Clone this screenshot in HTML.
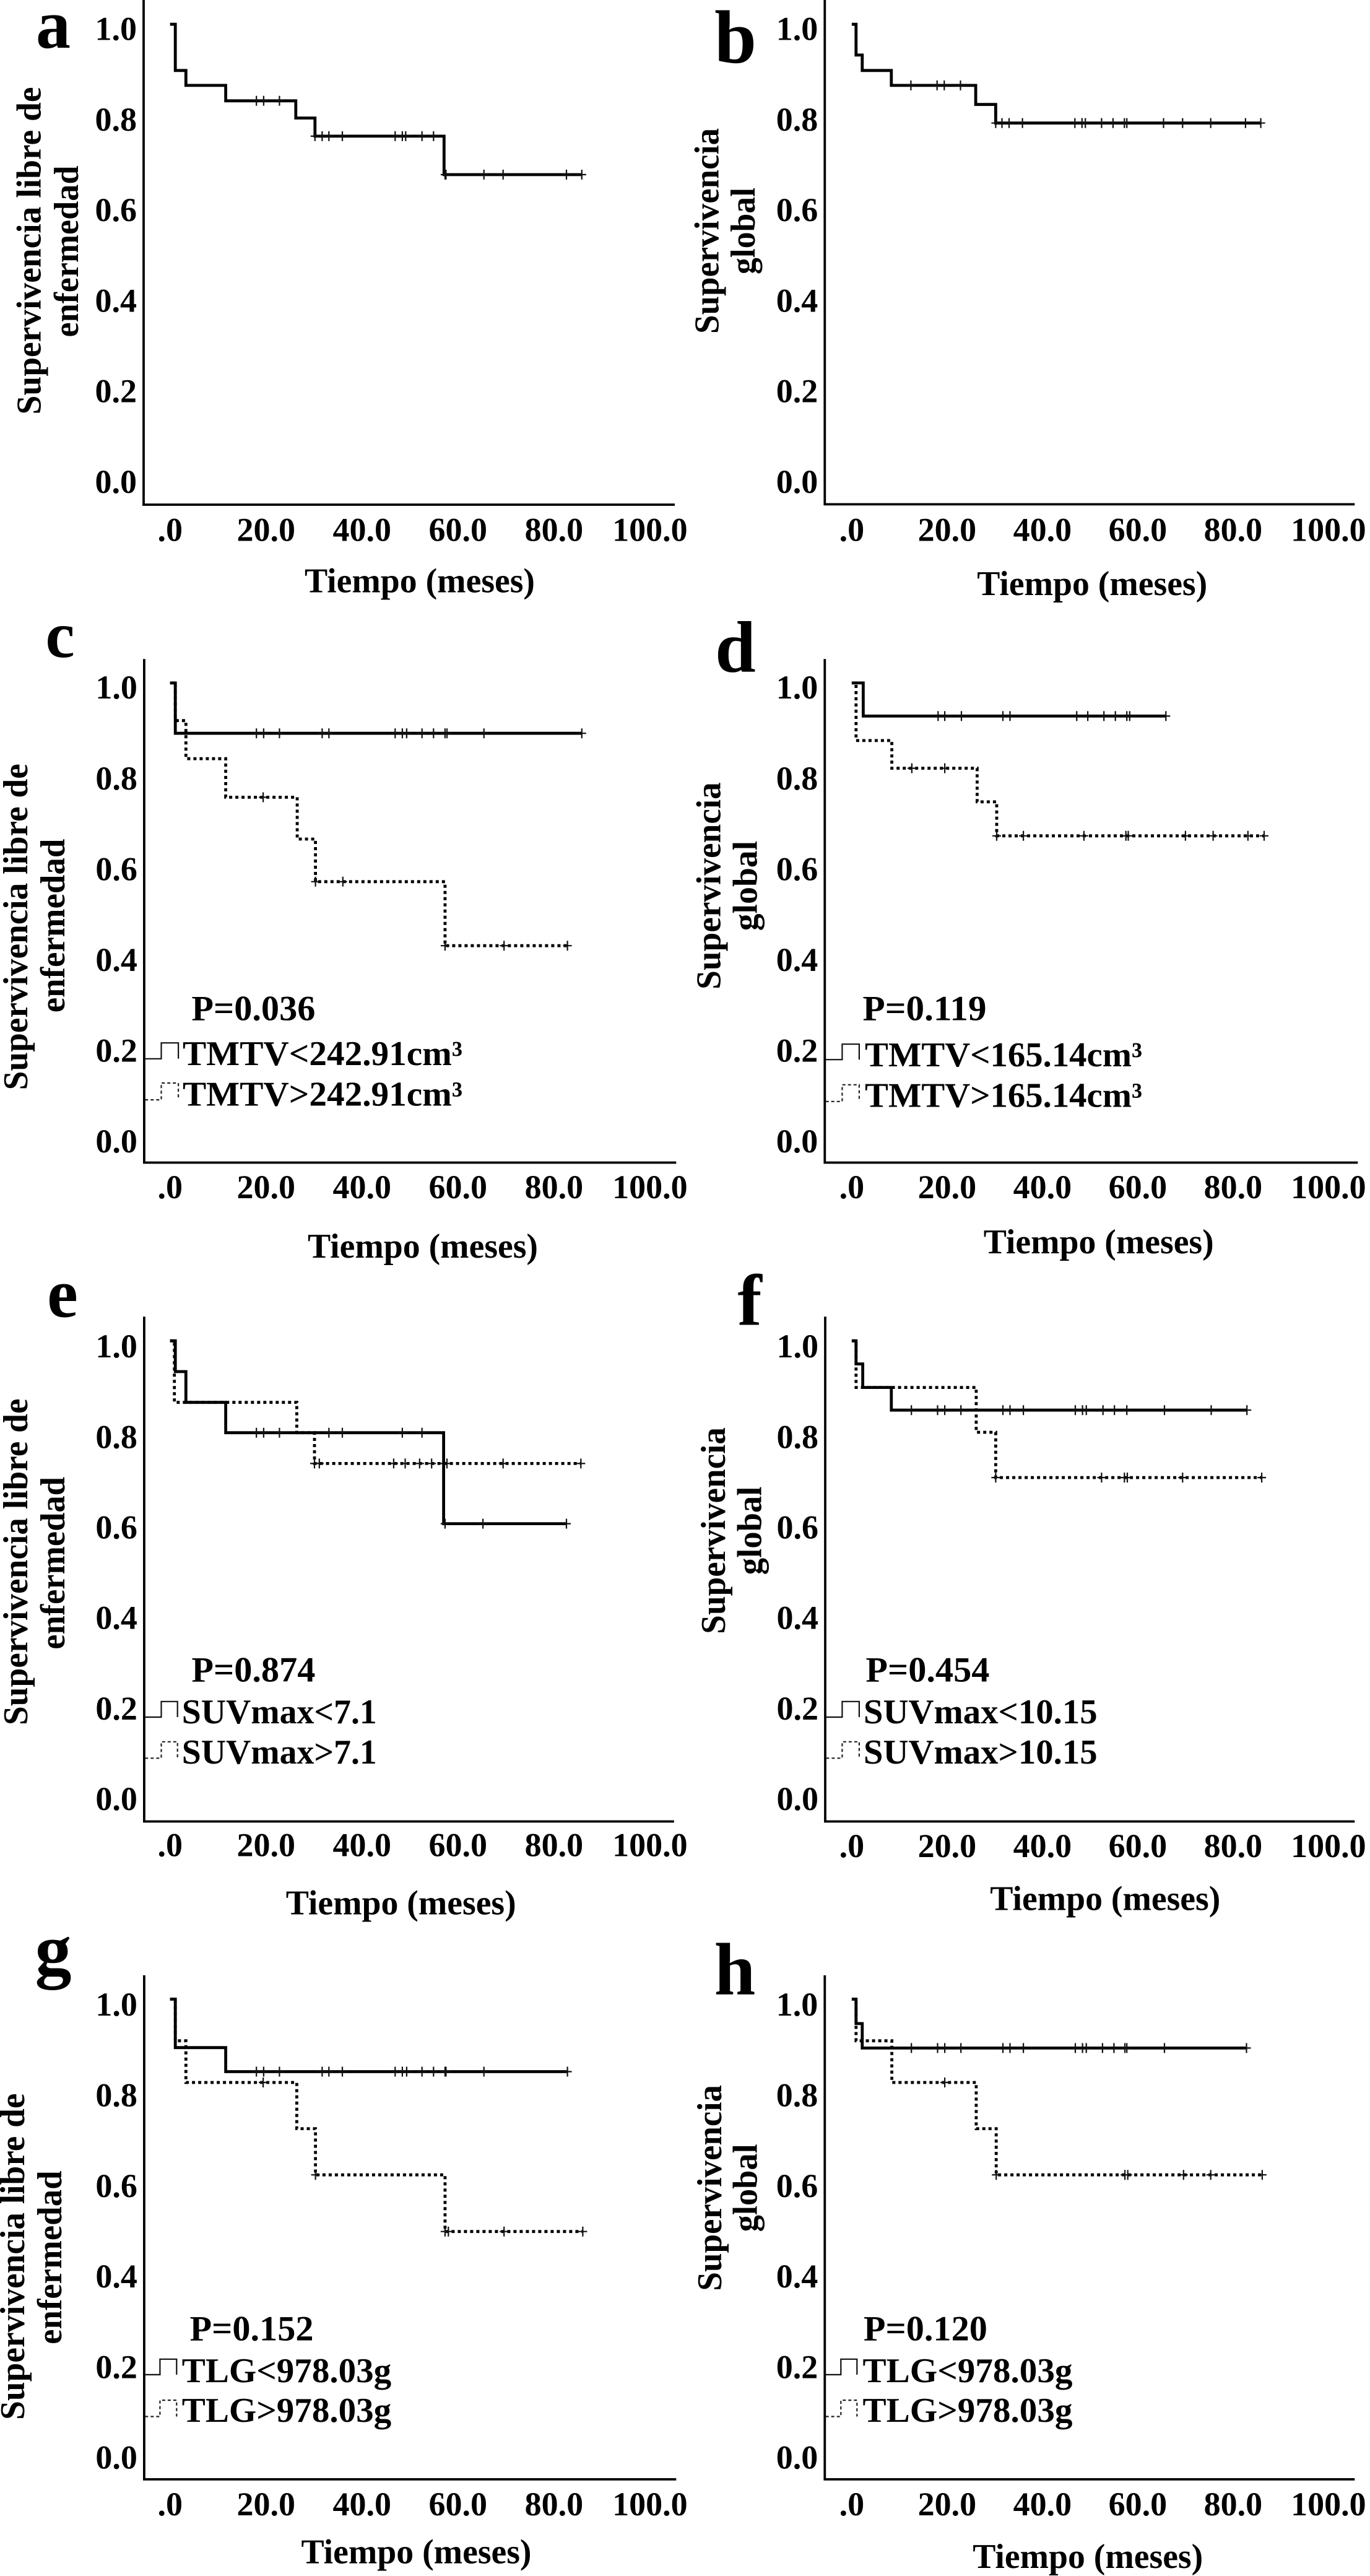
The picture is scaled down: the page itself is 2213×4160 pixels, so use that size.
<!DOCTYPE html>
<html lang="es">
<head>
<meta charset="utf-8">
<title>Curvas de supervivencia</title>
<style>
html,body{margin:0;padding:0;background:#fff;}
svg{display:block;}
text{font-family:"Liberation Serif",serif;font-weight:bold;fill:#000;}
.letter{font-size:112px;text-anchor:middle;}
.ytitle{font-size:56px;text-anchor:middle;}
.xtitle{font-size:56px;text-anchor:middle;}
.pval{font-size:57px;}
.leg{font-size:56px;}
.tick{font-size:54px;}
.axis{stroke:#000;stroke-width:3.8;fill:none;}
.lg-solid{stroke:#111;stroke-width:2.2;fill:none;}
.lg-dot{stroke:#222;stroke-width:2.2;fill:none;stroke-dasharray:5 4;}
</style>
</head>
<body>
<svg id="figure" width="2213" height="4160" viewBox="0 0 2213 4160">
<rect x="0" y="0" width="2213" height="4160" fill="#fff"/>

<g id="panel-a">
<text class="letter" x="86" y="77" style="font-size:112px">a</text>
<line class="axis" x1="232" y1="0" x2="232" y2="816"/>
<line class="axis" x1="230" y1="815" x2="1090" y2="815"/>
<text class="ytitle" transform="translate(65.5 405) rotate(-90)" textLength="529" lengthAdjust="spacingAndGlyphs">Supervivencia libre de</text>
<text class="ytitle" transform="translate(126 406) rotate(-90)" textLength="277" lengthAdjust="spacingAndGlyphs">enfermedad</text>
<text class="xtitle" x="678" y="956.5" textLength="372" lengthAdjust="spacingAndGlyphs">Tiempo (meses)</text>
</g>

<g id="panel-b">
<text class="letter" x="1188" y="100.8" style="font-size:122px">b</text>
<line class="axis" x1="1332.3" y1="0" x2="1332.3" y2="816"/>
<line class="axis" x1="1330.5" y1="814.4" x2="2188.3" y2="814.4"/>
<text class="ytitle" transform="translate(1160.6 373) rotate(-90)" textLength="332" lengthAdjust="spacingAndGlyphs">Supervivencia</text>
<text class="ytitle" transform="translate(1219 373) rotate(-90)" textLength="140" lengthAdjust="spacingAndGlyphs">global</text>
<text class="xtitle" x="1764.2" y="961" textLength="372" lengthAdjust="spacingAndGlyphs">Tiempo (meses)</text>
</g>

<g id="panel-c">
<text class="letter" x="97" y="1060.8" style="font-size:106px">c</text>
<line class="axis" x1="232.9" y1="1064.2" x2="232.9" y2="1879"/>
<line class="axis" x1="231" y1="1877.5" x2="1092.3" y2="1877.5"/>
<text class="ytitle" transform="translate(44 1496.9) rotate(-90)" textLength="527" lengthAdjust="spacingAndGlyphs">Supervivencia libre de</text>
<text class="ytitle" transform="translate(104 1494.9) rotate(-90)" textLength="280.6" lengthAdjust="spacingAndGlyphs">enfermedad</text>
<text class="xtitle" x="683" y="2031" textLength="372" lengthAdjust="spacingAndGlyphs">Tiempo (meses)</text>
<text class="pval" x="309.4" y="1647.6" textLength="200" lengthAdjust="spacingAndGlyphs">P=0.036</text>
<path class="lg-solid" d="M234.3 1709.8H260.5V1684.2H288.1V1709.8"/>
<path class="lg-dot" d="M234.3 1776.1H260.5V1749H288.1V1776.1"/>
<text class="leg" x="295" y="1720" textLength="452" lengthAdjust="spacingAndGlyphs">TMTV&lt;242.91cm³</text>
<text class="leg" x="295" y="1785.6" textLength="452" lengthAdjust="spacingAndGlyphs">TMTV&gt;242.91cm³</text>
</g>

<g id="panel-d">
<text class="letter" x="1188" y="1084.5" style="font-size:118px">d</text>
<line class="axis" x1="1332.3" y1="1064.2" x2="1332.3" y2="1879"/>
<line class="axis" x1="1330.5" y1="1877.5" x2="2193.3" y2="1877.5"/>
<text class="ytitle" transform="translate(1163.5 1430.6) rotate(-90)" textLength="334.6" lengthAdjust="spacingAndGlyphs">Supervivencia</text>
<text class="ytitle" transform="translate(1222.5 1430.6) rotate(-90)" textLength="145.4" lengthAdjust="spacingAndGlyphs">global</text>
<text class="xtitle" x="1774.7" y="2024.2" textLength="372" lengthAdjust="spacingAndGlyphs">Tiempo (meses)</text>
<text class="pval" x="1393.5" y="1647.6" textLength="200" lengthAdjust="spacingAndGlyphs">P=0.119</text>
<path class="lg-solid" d="M1333.7 1711.2H1360.4V1686.2H1387.9V1711.2"/>
<path class="lg-dot" d="M1333.7 1778.8H1360.4V1751.8H1387.9V1778.8"/>
<text class="leg" x="1397" y="1722" textLength="448" lengthAdjust="spacingAndGlyphs">TMTV&lt;165.14cm³</text>
<text class="leg" x="1397" y="1787.6" textLength="448" lengthAdjust="spacingAndGlyphs">TMTV&gt;165.14cm³</text>
</g>

<g id="panel-e">
<text class="letter" x="101" y="2126.3" style="font-size:112px">e</text>
<line class="axis" x1="232.9" y1="2126.3" x2="232.9" y2="2943"/>
<line class="axis" x1="231" y1="2941.5" x2="1088.8" y2="2941.5"/>
<text class="ytitle" transform="translate(44 2522.3) rotate(-90)" textLength="527.3" lengthAdjust="spacingAndGlyphs">Supervivencia libre de</text>
<text class="ytitle" transform="translate(104 2524.3) rotate(-90)" textLength="278.6" lengthAdjust="spacingAndGlyphs">enfermedad</text>
<text class="xtitle" x="647.7" y="3091.5" textLength="372" lengthAdjust="spacingAndGlyphs">Tiempo (meses)</text>
<text class="pval" x="309.4" y="2715.3" textLength="200" lengthAdjust="spacingAndGlyphs">P=0.874</text>
<path class="lg-solid" d="M234.3 2773H260.5V2747.8H286.7V2773"/>
<path class="lg-dot" d="M234.3 2839.3H260.5V2812.8H286.7V2839.3"/>
<text class="leg" x="293.8" y="2783" textLength="315" lengthAdjust="spacingAndGlyphs">SUVmax&lt;7.1</text>
<text class="leg" x="293.8" y="2848" textLength="315" lengthAdjust="spacingAndGlyphs">SUVmax&gt;7.1</text>
</g>

<g id="panel-f">
<text class="letter" x="1211" y="2139.6" style="font-size:118px">f</text>
<line class="axis" x1="1333" y1="2126.3" x2="1333" y2="2943"/>
<line class="axis" x1="1331" y1="2941.5" x2="2188.3" y2="2941.5"/>
<text class="ytitle" transform="translate(1171 2471.9) rotate(-90)" textLength="333.6" lengthAdjust="spacingAndGlyphs">Supervivencia</text>
<text class="ytitle" transform="translate(1229.6 2471.9) rotate(-90)" textLength="142.6" lengthAdjust="spacingAndGlyphs">global</text>
<text class="xtitle" x="1785.3" y="3084.7" textLength="372" lengthAdjust="spacingAndGlyphs">Tiempo (meses)</text>
<text class="pval" x="1398.4" y="2715.3" textLength="200" lengthAdjust="spacingAndGlyphs">P=0.454</text>
<path class="lg-solid" d="M1334.4 2773H1360.4V2747.8H1387.9V2773"/>
<path class="lg-dot" d="M1334.4 2839.3H1360.4V2812.8H1387.9V2839.3"/>
<text class="leg" x="1394.9" y="2783" textLength="377.7" lengthAdjust="spacingAndGlyphs">SUVmax&lt;10.15</text>
<text class="leg" x="1394.9" y="2848" textLength="377.7" lengthAdjust="spacingAndGlyphs">SUVmax&gt;10.15</text>
</g>

<g id="panel-g">
<text class="letter" x="86" y="3187.9" style="font-size:118px">g</text>
<line class="axis" x1="232.9" y1="3189.9" x2="232.9" y2="4005.5"/>
<line class="axis" x1="231" y1="4003.9" x2="1092.3" y2="4003.9"/>
<text class="ytitle" transform="translate(39 3644.2) rotate(-90)" textLength="527.3" lengthAdjust="spacingAndGlyphs">Supervivencia libre de</text>
<text class="ytitle" transform="translate(99 3645.6) rotate(-90)" textLength="280.6" lengthAdjust="spacingAndGlyphs">enfermedad</text>
<text class="xtitle" x="672.5" y="4139.7" textLength="372" lengthAdjust="spacingAndGlyphs">Tiempo (meses)</text>
<text class="pval" x="306.5" y="3779.4" textLength="200" lengthAdjust="spacingAndGlyphs">P=0.152</text>
<path class="lg-solid" d="M234.3 3834.9H258.4V3809.8H285.3V3834.9"/>
<path class="lg-dot" d="M234.3 3902.5H258.4V3876.1H285.3V3902.5"/>
<text class="leg" x="293.8" y="3847" textLength="338.4" lengthAdjust="spacingAndGlyphs">TLG&lt;978.03g</text>
<text class="leg" x="293.8" y="3911.2" textLength="338.4" lengthAdjust="spacingAndGlyphs">TLG&gt;978.03g</text>
</g>

<g id="panel-h">
<text class="letter" x="1187" y="3220.3" style="font-size:120px">h</text>
<line class="axis" x1="1332.3" y1="3189.9" x2="1332.3" y2="4005.5"/>
<line class="axis" x1="1330.5" y1="4003.9" x2="2188.3" y2="4003.9"/>
<text class="ytitle" transform="translate(1165 3533.3) rotate(-90)" textLength="332.6" lengthAdjust="spacingAndGlyphs">Supervivencia</text>
<text class="ytitle" transform="translate(1222.5 3533.3) rotate(-90)" textLength="142" lengthAdjust="spacingAndGlyphs">global</text>
<text class="xtitle" x="1757.2" y="4147" textLength="372" lengthAdjust="spacingAndGlyphs">Tiempo (meses)</text>
<text class="pval" x="1394.9" y="3779.4" textLength="200" lengthAdjust="spacingAndGlyphs">P=0.120</text>
<path class="lg-solid" d="M1333.7 3834.9H1358.3V3809.8H1384.3V3834.9"/>
<path class="lg-dot" d="M1333.7 3902.5H1358.3V3876.1H1384.3V3902.5"/>
<text class="leg" x="1393.5" y="3847" textLength="339" lengthAdjust="spacingAndGlyphs">TLG&lt;978.03g</text>
<text class="leg" x="1393.5" y="3911.2" textLength="339" lengthAdjust="spacingAndGlyphs">TLG&gt;978.03g</text>
</g>
</svg>

<script>
// ---- tick data ----
const xTickValues = [0, 20, 40, 60, 80, 100];
const xTickLabels = ['.0', '20.0', '40.0', '60.0', '80.0', '100.0'];
const yTickValues = [0, 0.2, 0.4, 0.6, 0.8, 1.0];
const yTickLabels = ['0.0', '0.2', '0.4', '0.6', '0.8', '1.0'];

// ---- panel a ----
const aSolidTimes = [0, 1.1, 3.3, 11.6, 26.2, 30.2, 57.1];
const aSolidLevels = [1.01, 0.908, 0.875, 0.841, 0.803, 0.763, 0.678];
const aSolidCensored = [18.0, 19.5, 22.8, 30.2, 31.7, 33.1, 35.9, 46.9, 48.4, 49.1, 52.5, 54.9, 57.3, 57.5, 65.4, 69.4, 82.6, 85.8];

// ---- panel b ----
const bSolidTimes = [0, 0.9, 2.2, 8.3, 26.0, 30.2];
const bSolidLevels = [1.01, 0.942, 0.908, 0.875, 0.833, 0.792];
const bSolidCensored = [12.4, 17.9, 19.4, 22.8, 30.2, 31.5, 33.0, 35.8, 46.8, 48.3, 49.0, 52.4, 54.8, 57.2, 57.7, 65.4, 69.4, 75.3, 82.6, 85.8];

// ---- panel c ----
const cSolidTimes = [0, 1.1];
const cSolidLevels = [1.01, 0.899];
const cSolidCensored = [18.0, 19.5, 22.8, 31.7, 33.1, 46.9, 48.4, 49.3, 52.5, 54.9, 57.3, 57.7, 65.4, 85.8];
const cDottedTimes = [0, 1.1, 3.3, 11.6, 26.5, 30.3, 57.3];
const cDottedLevels = [1.01, 0.927, 0.843, 0.758, 0.666, 0.572, 0.431];
const cDottedCensored = [19.4, 30.3, 36.0, 57.3, 69.6, 82.8];

// ---- panel d ----
const dSolidTimes = [0, 2.4];
const dSolidLevels = [1.01, 0.937];
const dSolidCensored = [18.1, 19.5, 23.0, 31.7, 33.2, 47.2, 49.5, 52.9, 55.3, 57.7, 58.3, 65.9];
const dDottedTimes = [0, 0.9, 8.4, 26.3, 30.4];
const dDottedLevels = [1.01, 0.883, 0.822, 0.748, 0.673];
const dDottedCensored = [12.6, 19.5, 30.4, 36.0, 48.7, 57.5, 58.0, 70.0, 75.8, 83.1, 86.5];

// ---- panel e ----
const eSolidTimes = [0, 1.1, 3.3, 11.6, 57.0];
const eSolidLevels = [1.012, 0.944, 0.876, 0.809, 0.608];
const eSolidCensored = [18.0, 19.5, 22.8, 33.1, 35.9, 48.4, 52.5, 57.3, 65.2, 82.6];
const eDottedTimes = [0, 0.9, 26.4, 30.1];
const eDottedLevels = [1.012, 0.876, 0.809, 0.741];
const eDottedCensored = [30.1, 31.1, 46.6, 49.0, 52.0, 54.5, 57.0, 57.7, 69.4, 85.6];

// ---- panel f ----
const fSolidTimes = [0, 0.9, 2.3, 8.3];
const fSolidLevels = [1.012, 0.961, 0.909, 0.859];
const fSolidCensored = [12.5, 18.0, 19.5, 22.9, 31.7, 33.2, 36.0, 46.9, 48.4, 49.2, 52.7, 55.1, 57.7, 65.6, 75.4, 82.9];
const fDottedTimes = [0, 0.9, 26.1, 30.2];
const fDottedLevels = [1.012, 0.909, 0.810, 0.710];
const fDottedCensored = [30.2, 52.4, 57.2, 57.8, 69.4, 86.0];

// ---- panel g ----
const gSolidTimes = [0, 1.1, 11.6];
const gSolidLevels = [1.012, 0.905, 0.852];
const gSolidCensored = [18.0, 19.5, 22.8, 31.7, 33.1, 35.9, 46.9, 48.4, 49.3, 52.5, 54.9, 57.3, 57.5, 65.4, 82.8];
const gDottedTimes = [0, 1.1, 3.3, 26.4, 30.3, 57.3];
const gDottedLevels = [1.012, 0.920, 0.828, 0.726, 0.624, 0.499];
const gDottedCensored = [19.4, 30.3, 57.3, 58.0, 69.6, 86.0];

// ---- panel h ----
const hSolidTimes = [0, 0.9, 2.2];
const hSolidLevels = [1.012, 0.958, 0.904];
const hSolidCensored = [12.5, 18.0, 19.5, 22.9, 31.7, 33.2, 36.0, 46.9, 48.4, 49.2, 52.6, 55.0, 57.3, 57.7, 65.6, 82.8];
const hDottedTimes = [0, 0.9, 8.4, 26.1, 30.3];
const hDottedLevels = [1.012, 0.920, 0.828, 0.726, 0.624];
const hDottedCensored = [19.5, 30.3, 57.3, 57.9, 69.6, 75.3, 86.1];

const NS = 'http://www.w3.org/2000/svg';

function makeX(frame) {
  return function (t) { return frame.x0 + t * frame.xUnit; };
}
function makeY(frame) {
  return function (v) { return frame.y0 - v * frame.yUnit; };
}
function levelAt(times, levels, t) {
  let level = levels[0];
  for (let i = 0; i < times.length; i++) {
    if (times[i] <= t) level = levels[i];
  }
  return level;
}
function stepPath(times, levels, censored, x, y) {
  let d = 'M' + x(times[0]).toFixed(1) + ' ' + y(levels[0]).toFixed(1);
  for (let i = 1; i < times.length; i++) {
    d += 'H' + x(times[i]).toFixed(1) + 'V' + y(levels[i]).toFixed(1);
  }
  const last = censored.length ? Math.max.apply(null, censored) : times[times.length - 1];
  d += 'H' + x(last).toFixed(1);
  return d;
}

function drawAxisLabels(group, id, frame, x, y) {
  xTickValues.forEach(function (value, i) {
    const el = document.createElementNS(NS, 'text');
    el.setAttribute('class', 'tick');
    el.setAttribute('text-anchor', 'middle');
    el.setAttribute('x', x(value).toFixed(1));
    el.setAttribute('y', (frame.xLabelY + 15.5).toFixed(1));
    
    
    el.textContent = xTickLabels[i];
    group.appendChild(el);
  });
  yTickValues.forEach(function (value, i) {
    const el = document.createElementNS(NS, 'text');
    el.setAttribute('class', 'tick');
    el.setAttribute('text-anchor', 'end');
    el.setAttribute('x', (frame.ox - 11).toFixed(1));
    el.setAttribute('y', (y(value) + 18).toFixed(1));
    
    
    el.textContent = yTickLabels[i];
    group.appendChild(el);
  });
}

function drawSeries(group, id, kind, times, levels, censored, x, y) {
  const line = document.createElementNS(NS, 'path');
  line.setAttribute('d', stepPath(times, levels, censored, x, y));
  line.setAttribute('fill', 'none');
  line.setAttribute('stroke', '#000');
  line.setAttribute('stroke-width', '4.8');
  if (kind === 'dotted') {
    line.setAttribute('stroke-dasharray', '5 5');
  }
  
  
  group.appendChild(line);
  censored.forEach(function (t) {
    const cx = x(t);
    const cy = y(levelAt(times, levels, t));
    const mark = document.createElementNS(NS, 'path');
    mark.setAttribute('d', 'M' + (cx - 7).toFixed(1) + ' ' + cy.toFixed(1) + 'H' + (cx + 7).toFixed(1) + 'M' + cx.toFixed(1) + ' ' + (cy - 8).toFixed(1) + 'V' + (cy + 8).toFixed(1));
    mark.setAttribute('fill', 'none');
    mark.setAttribute('stroke', '#111');
    mark.setAttribute('stroke-width', '2.2');
    
    
    group.appendChild(mark);
  });
}

function drawPanel(id, frame, solid, dotted) {
  const group = document.getElementById('panel-' + id);
  const x = makeX(frame);
  const y = makeY(frame);
  drawAxisLabels(group, id, frame, x, y);
  if (dotted) {
    drawSeries(group, id, 'dotted', dotted[0], dotted[1], dotted[2], x, y);
  }
  drawSeries(group, id, 'solid', solid[0], solid[1], solid[2], x, y);
}

drawPanel('a', {ox: 232, x0: 274.7, xUnit: 7.752, y0: 778, yUnit: 731.5, xLabelY: 857.8}, [aSolidTimes, aSolidLevels, aSolidCensored]);
drawPanel('b', {ox: 1332.3, x0: 1375.9, xUnit: 7.70, y0: 778, yUnit: 731.5, xLabelY: 857.8}, [bSolidTimes, bSolidLevels, bSolidCensored]);
drawPanel('c', {ox: 232.9, x0: 274.7, xUnit: 7.752, y0: 1843, yUnit: 732.8, xLabelY: 1919.4}, [cSolidTimes, cSolidLevels, cSolidCensored], [cDottedTimes, cDottedLevels, cDottedCensored]);
drawPanel('d', {ox: 1332.3, x0: 1375.9, xUnit: 7.70, y0: 1843, yUnit: 732.8, xLabelY: 1919.4}, [dSolidTimes, dSolidLevels, dSolidCensored], [dDottedTimes, dDottedLevels, dDottedCensored]);
drawPanel('e', {ox: 232.9, x0: 274.7, xUnit: 7.752, y0: 2905, yUnit: 730.9, xLabelY: 2982}, [eSolidTimes, eSolidLevels, eSolidCensored], [eDottedTimes, eDottedLevels, eDottedCensored]);
drawPanel('f', {ox: 1333, x0: 1375.9, xUnit: 7.70, y0: 2905, yUnit: 730.9, xLabelY: 2983.3}, [fSolidTimes, fSolidLevels, fSolidCensored], [fDottedTimes, fDottedLevels, fDottedCensored]);
drawPanel('g', {ox: 232.9, x0: 274.7, xUnit: 7.752, y0: 3968.7, yUnit: 731.5, xLabelY: 4046.5}, [gSolidTimes, gSolidLevels, gSolidCensored], [gDottedTimes, gDottedLevels, gDottedCensored]);
drawPanel('h', {ox: 1332.3, x0: 1375.9, xUnit: 7.70, y0: 3968.7, yUnit: 731.5, xLabelY: 4046.5}, [hSolidTimes, hSolidLevels, hSolidCensored], [hDottedTimes, hDottedLevels, hDottedCensored]);
</script>
</body>
</html>
